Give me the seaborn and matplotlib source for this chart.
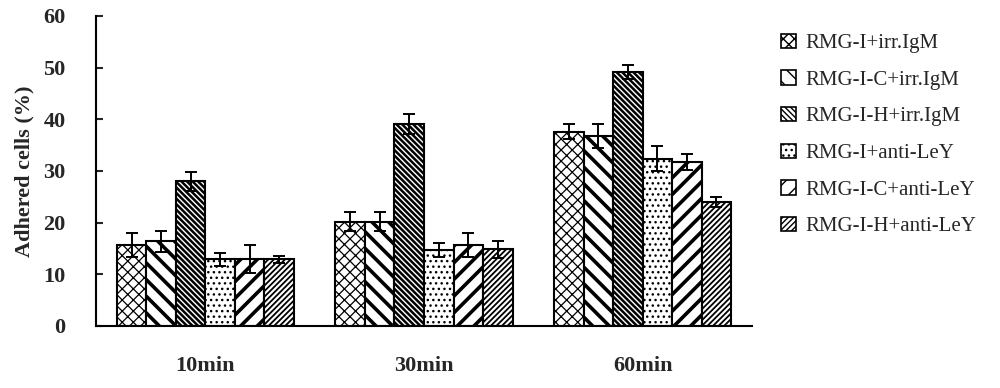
import matplotlib
matplotlib.use("Agg")
import matplotlib.pyplot as plt
import matplotlib.patches as mpatches
import seaborn as sns
import pandas as pd
import numpy as np

categories = ["10min", "30min", "60min"]
groups = ["RMG-I+irr.IgM", "RMG-I-C+irr.IgM", "RMG-I-H+irr.IgM",
          "RMG-I+anti-LeY", "RMG-I-C+anti-LeY", "RMG-I-H+anti-LeY"]
values = {
    "RMG-I+irr.IgM":    [15.7, 20.2, 37.6],
    "RMG-I-C+irr.IgM":  [16.4, 20.2, 36.8],
    "RMG-I-H+irr.IgM":  [28.0, 39.1, 49.1],
    "RMG-I+anti-LeY":   [12.9, 14.7, 32.4],
    "RMG-I-C+anti-LeY": [12.9, 15.6, 31.7],
    "RMG-I-H+anti-LeY": [12.9, 14.8, 24.0],
}
errors = {
    "RMG-I+irr.IgM":    [2.3, 1.9, 1.5],
    "RMG-I-C+irr.IgM":  [2.0, 1.9, 2.3],
    "RMG-I-H+irr.IgM":  [1.8, 1.9, 1.4],
    "RMG-I+anti-LeY":   [1.3, 1.3, 2.4],
    "RMG-I-C+anti-LeY": [2.7, 2.3, 1.6],
    "RMG-I-H+anti-LeY": [0.7, 1.6, 0.9],
}
yticks = [0, 10, 20, 30, 40, 50, 60]

hatches = ["xxx", "\\\\", "\\\\\\\\\\\\", "...", "//", "//////"]
hatch_lw = [0.9, 2.6, 1.8, 1.0, 2.6, 1.3]

rows = []
for g in groups:
    for c, v, e in zip(categories, values[g], errors[g]):
        rows.append({"time": c, "group": g, "value": v, "err": e})
df = pd.DataFrame(rows)

sns.set_style("white")
plt.rcParams["font.family"] = ["Liberation Serif", "DejaVu Serif"]
plt.rcParams["hatch.color"] = "black"

fig = plt.figure(figsize=(10, 3.88), dpi=100)
ax = fig.add_axes([0.096, 0.160, 0.656, 0.799])

palette = {g: "white" for g in groups}
sns.barplot(data=df, x="time", y="value", hue="group", order=categories,
            hue_order=groups, palette=palette, errorbar=None, width=0.81,
            edgecolor="black", linewidth=1.5, legend=False, ax=ax, saturation=1)

bars = [p for p in ax.patches if isinstance(p, mpatches.Rectangle)]
for gi, g in enumerate(groups):
    for ci in range(len(categories)):
        p = bars[gi * len(categories) + ci]
        p.set_hatch(hatches[gi])
        if hasattr(p, "set_hatch_linewidth"):
            p.set_hatch_linewidth(hatch_lw[gi])
        x = p.get_x() + p.get_width() / 2
        ax.errorbar(x, values[g][ci], yerr=errors[g][ci], color="black",
                    capsize=4.5, elinewidth=1.4, capthick=1.4, zorder=5)

ax.set_xlim(-0.5, 2.5)
ax.set_ylim(0, 60)
ax.set_yticks(yticks)
ax.set_yticklabels([str(t) for t in yticks], fontsize=16, fontweight="bold")
ax.set_xticks(range(len(categories)))
ax.set_xticklabels(categories, fontsize=16, fontweight="bold")
ax.tick_params(axis="x", which="major", length=0, pad=22)
ax.set_xticks([-0.5, 0.5, 1.5, 2.5], minor=True)
ax.tick_params(axis="x", which="minor", direction="in", length=5, width=1.5)
ax.tick_params(axis="y", direction="in", length=5, width=1.5, pad=22, left=True)
ax.set_xlabel("")
ax.set_ylabel("Adhered cells (%)", fontsize=16, fontweight="bold", labelpad=6)
for s in ["top", "right"]:
    ax.spines[s].set_visible(False)
for s in ["left", "bottom"]:
    ax.spines[s].set_linewidth(1.5)
    ax.spines[s].set_color("black")

handles = []
for gi, g in enumerate(groups):
    h = mpatches.Patch(facecolor="white", edgecolor="black", hatch=hatches[gi],
                       linewidth=1.2, label=g)
    handles.append(h)
fig.legend(handles=handles, loc="upper left", bbox_to_anchor=(0.773, 0.935),
           frameon=False, fontsize=15, handlelength=0.7, handleheight=0.7,
           handletextpad=0.45, labelspacing=0.82, borderaxespad=0)

fig.savefig("out.png", dpi=100)
